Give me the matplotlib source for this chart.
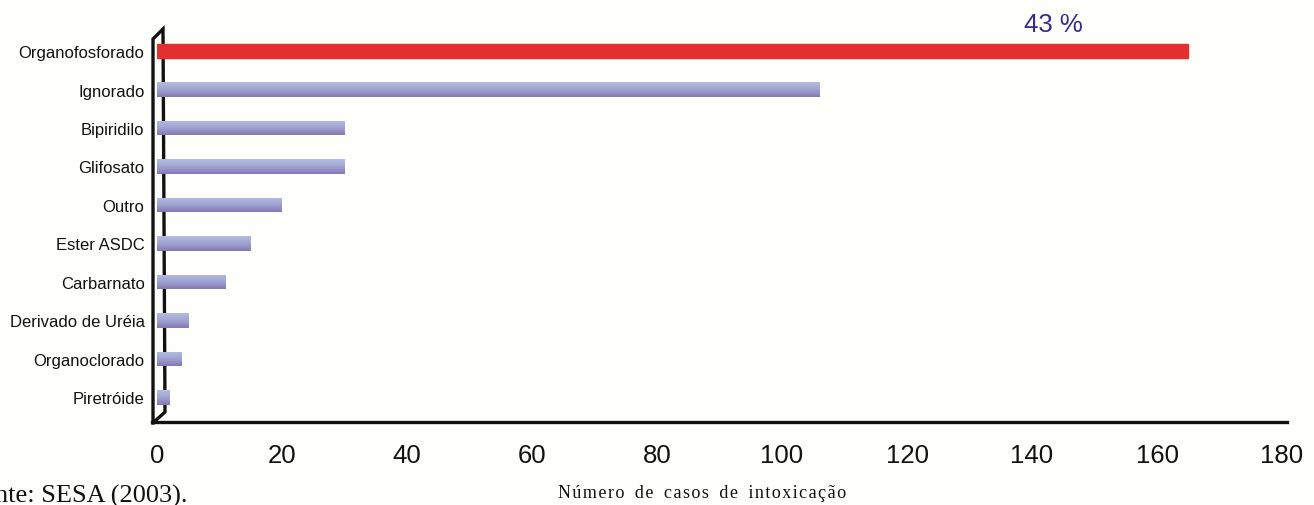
import numpy as np
import matplotlib.pyplot as plt
from matplotlib.lines import Line2D
from matplotlib.colors import LinearSegmentedColormap

categorias = ['Organofosforado', 'Ignorado', 'Bipiridilo', 'Glifosato', 'Outro',
              'Ester ASDC', 'Carbarnato', 'Derivado de Uréia', 'Organoclorado', 'Piretróide']
casos = [165, 106, 30, 30, 20, 15, 11, 5, 4, 2]
xticks = [0, 20, 40, 60, 80, 100, 120, 140, 160, 180]

W, H = 1314, 506
fundo = '#fefefb'

fig = plt.figure(figsize=(W / 100, H / 100), dpi=100, facecolor=fundo)

def px(x, y):
    # pixel (top-left origin) -> figure fraction
    return x / W, 1 - y / H

# axes box in pixels: x 157..1282 (0..180), y 30..423
x0, x1, y0, y1 = 157, 1282, 30, 423
ax = fig.add_axes([x0 / W, 1 - y1 / H, (x1 - x0) / W, (y1 - y0) / H])
ax.set_facecolor('none')
step = 38.5

# wall and floor of the pseudo-3D frame, kept under the bars
frame = dict(color='#111111', lw=2.4, solid_joinstyle='miter', zorder=-1)
fig.add_artist(Line2D(*zip(px(153, 424), px(153, 40), px(163, 30), px(165, 413), px(154, 423)), **frame))
fig.add_artist(Line2D(*zip(px(152, 423), px(1287, 423)), **frame))

y = np.arange(len(categorias))
bars = ax.barh(y, casos, height=0.37, left=0, color='#9c9ccc', zorder=3)

# vertical shading on the blue bars, the first one stays flat red
grad = np.linspace(0, 1, 64).reshape(-1, 1)
cmap = LinearSegmentedColormap.from_list('barra', ['#b4bce0', '#9fa3d2', '#8578b2'])
for i, b in enumerate(bars):
    if i == 0:
        b.set_color('#e3302e')
        continue
    bx, by = b.get_x(), b.get_y()
    im = ax.imshow(grad, cmap=cmap, aspect='auto', zorder=4,
                   extent=(bx, bx + b.get_width(), by + b.get_height(), by))
    im.set_clip_path(b)
ax.set_xlim(0, 180)
ax.set_ylim((y1 - 52) / step, (y0 - 52) / step)

ax.set_yticks(y)
ax.set_yticklabels(categorias, fontsize=12, family='Liberation Sans', color='#111111')
ax.set_xticks(xticks)
ax.set_xticklabels([str(t) for t in xticks], fontsize=18.5, family='Liberation Sans', color='#111111')
ax.tick_params(axis='y', length=0, pad=9)
ax.tick_params(axis='x', length=0, pad=15)
for s in ax.spines.values():
    s.set_visible(False)

pct = round(100 * casos[0] / sum(casos))
ax.text(143.5, (25 - 52) / step, f'{pct} %', fontsize=18.5, family='Liberation Sans',
        color='#3b2a8c', ha='center', va='center', clip_on=False)

fig.text(*px(-33, 503), 'Fonte: SESA (2003).', fontsize=19, family='Liberation Serif',
         ha='left', va='baseline', color='#111111')
fig.text(*px(702, 494), 'N ú m e r o   d e   c a s o s   d e   i n t o x i c a ç ã o'.replace('  ', '\u2002').replace(' ', '\u200a'),
         fontsize=13, family='Liberation Serif', ha='center', va='center', color='#111111')

fig.savefig('out.png', dpi=100, facecolor=fundo)
